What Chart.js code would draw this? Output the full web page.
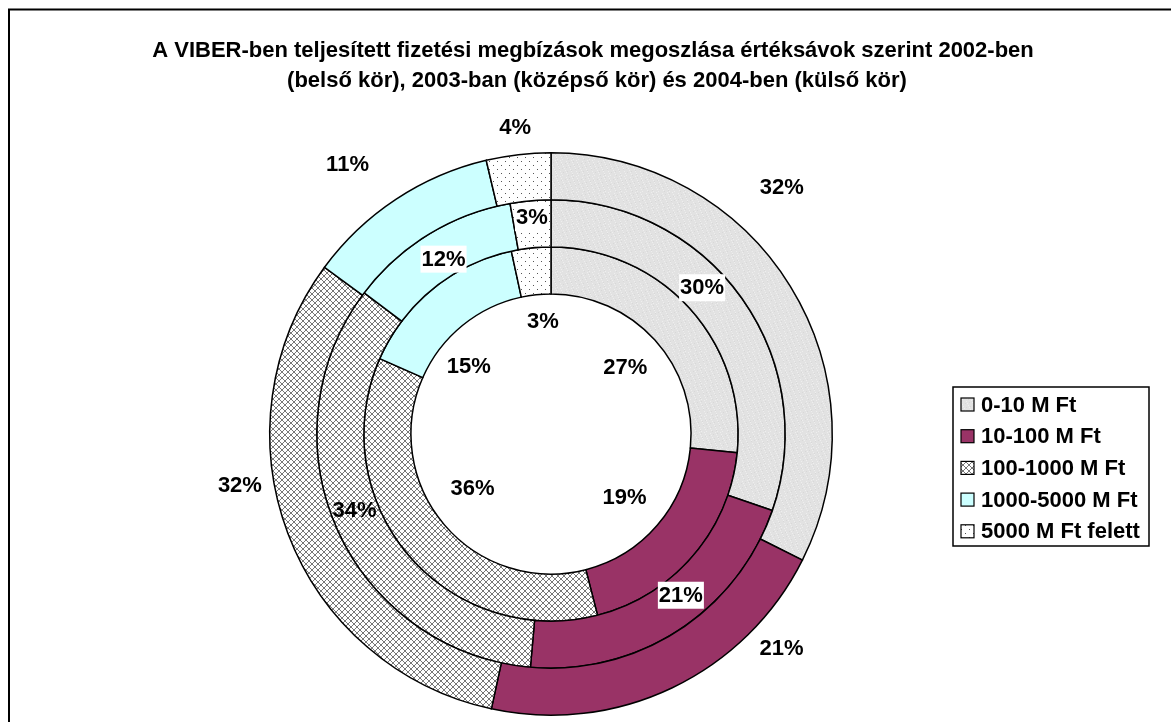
<!DOCTYPE html>
<html>
<head>
<meta charset="utf-8">
<script src="https://cdn.jsdelivr.net/npm/chart.js@4.4.1/dist/chart.umd.min.js"></script>
<style>
html,body{margin:0;padding:0;background:#fff;}
canvas{display:block;}
</style>
</head>
<body>
<canvas id="c" width="1171" height="722"></canvas>
<script>
// ---- DATA ----
const categories = ['0-10 M Ft', '10-100 M Ft', '100-1000 M Ft', '1000-5000 M Ft', '5000 M Ft felett'];
const values2002 = [26.6, 19.4, 35.6, 15.0, 3.4];   // inner ring
const values2003 = [30.3, 21.1, 33.9, 11.9, 2.8];   // middle ring
const values2004 = [32.4, 21.0, 31.7, 11.2, 3.7];   // outer ring
const titleLines = [
  'A VIBER-ben teljesített fizetési megbízások megoszlása értéksávok szerint 2002-ben',
  '(belső kör), 2003-ban (középső kör) és 2004-ben (külső kör)'
];

// ---- STYLE ----
const FONT = 'bold 22px "Liberation Sans", Arial, sans-serif';
const canvas = document.getElementById('c');
const mainCtx = canvas.getContext('2d');

function makePattern(w, h, bg, draw) {
  const c = document.createElement('canvas');
  c.width = w; c.height = h;
  const x = c.getContext('2d');
  x.fillStyle = bg; x.fillRect(0, 0, w, h);
  draw(x, w, h);
  return mainCtx.createPattern(c, 'repeat');
}
const grayPat = makePattern(16, 16, '#e2e2e2', (x, w, h) => {
  for (let i = 0; i < w; i++) for (let j = 0; j < h; j++) {
    if ((i * 7 + j * 13) % 11 === 0) { x.fillStyle = '#eeeeee'; x.fillRect(i, j, 1, 1); }
    else if ((i * 5 + j * 3) % 17 === 0) { x.fillStyle = '#d8d8d8'; x.fillRect(i, j, 1, 1); }
  }
});
const crossPat = makePattern(6, 6, '#ffffff', (x) => {
  x.fillStyle = '#777777';
  for (let i = 0; i < 6; i++) { x.fillRect(i, i, 1, 1); x.fillRect(i, 5 - i, 1, 1); }
});
const dotPat = makePattern(8, 8, '#ffffff', (x) => {
  x.fillStyle = '#555555';
  x.fillRect(1, 1, 1, 1); x.fillRect(5, 5, 1, 1);
});
const fills = [grayPat, '#993366', crossPat, '#ccffff', dotPat];

// label layout per ring (dataset order: outer, middle, inner)
const labelStyle = [
  { base: 'outer', off: [57, 33, 34, 57, 28], nudge: [-15.3, -21.6, 11.4, -3.5, 0], bg: [0,0,0,0,0] },
  { base: 'mid',   off: [0, -4, 0, -5, 7],    nudge: [-8.7, -6, 2.8, 0, 0],          bg: [1,1,0,1,1] },
  { base: 'inner', off: [-40, -43, -45, -33, -27], nudge: [0, 0, 6, -11, 2],          bg: [0,0,0,0,0] }
];

const decorPlugin = {
  id: 'decor',
  afterDraw(chart) {
    const ctx = chart.ctx;
    ctx.save();
    // frame
    ctx.strokeStyle = '#000'; ctx.lineWidth = 2;
    ctx.strokeRect(9, 9.5, 1200, 800);
    // title
    ctx.fillStyle = '#000'; ctx.font = FONT;
    ctx.textAlign = 'center'; ctx.textBaseline = 'alphabetic';
    ctx.fillText(titleLines[0], 593, 57);
    ctx.fillText(titleLines[1], 597, 87);
    // data labels
    ctx.textAlign = 'center'; ctx.textBaseline = 'middle';
    chart.data.datasets.forEach((ds, di) => {
      const meta = chart.getDatasetMeta(di);
      const st = labelStyle[di];
      meta.data.forEach((arc, j) => {
        const p = arc.getProps(['x', 'y', 'startAngle', 'endAngle', 'innerRadius', 'outerRadius'], true);
        const a = (p.startAngle + p.endAngle) / 2 + st.nudge[j] * Math.PI / 180;
        let r;
        if (st.base === 'outer') r = p.outerRadius + st.off[j];
        else if (st.base === 'mid') r = (p.outerRadius + p.innerRadius) / 2 + st.off[j];
        else r = p.innerRadius + st.off[j];
        const lx = p.x + Math.cos(a) * r;
        const ly = p.y + Math.sin(a) * r;
        const txt = Math.round(ds.data[j]) + '%';
        const w = ctx.measureText(txt).width;
        if (st.bg[j]) {
          ctx.fillStyle = '#fff';
          ctx.fillRect(lx - w / 2 - 1, ly - 13, w + 2, 27);
        }
        ctx.fillStyle = '#000';
        ctx.fillText(txt, lx, ly + 1);
      });
    });
    // legend
    const lx0 = 953, ly0 = 387, lw = 196, lh = 159;
    ctx.fillStyle = '#fff'; ctx.fillRect(lx0, ly0, lw, lh);
    ctx.strokeStyle = '#000'; ctx.lineWidth = 1.5;
    ctx.strokeRect(lx0, ly0, lw, lh);
    ctx.textAlign = 'left'; ctx.textBaseline = 'middle';
    categories.forEach((name, i) => {
      const cy = 404.5 + i * 31.7;
      ctx.fillStyle = fills[i];
      ctx.fillRect(961, cy - 6.5, 13, 13);
      ctx.strokeStyle = '#000'; ctx.lineWidth = 1.2;
      ctx.strokeRect(961, cy - 6.5, 13, 13);
      ctx.fillStyle = '#000';
      ctx.fillText(name, 981, cy + 1);
    });
    ctx.restore();
  }
};

new Chart(canvas, {
  type: 'doughnut',
  data: {
    labels: categories,
    datasets: [
      { label: '2004', data: values2004, backgroundColor: fills, borderColor: '#000', borderWidth: 1.5 },
      { label: '2003', data: values2003, backgroundColor: fills, borderColor: '#000', borderWidth: 1.5 },
      { label: '2002', data: values2002, backgroundColor: fills, borderColor: '#000', borderWidth: 1.5 }
    ]
  },
  options: {
    responsive: false,
    animation: false,
    cutout: '49.8%',
    layout: { padding: { left: 269, top: 152, right: 338, bottom: 6 } },
    plugins: { legend: { display: false }, title: { display: false }, tooltip: { enabled: false } },
    elements: { arc: { borderAlign: 'center', borderJoinStyle: 'miter' } }
  },
  plugins: [decorPlugin]
});
</script>
</body>
</html>
